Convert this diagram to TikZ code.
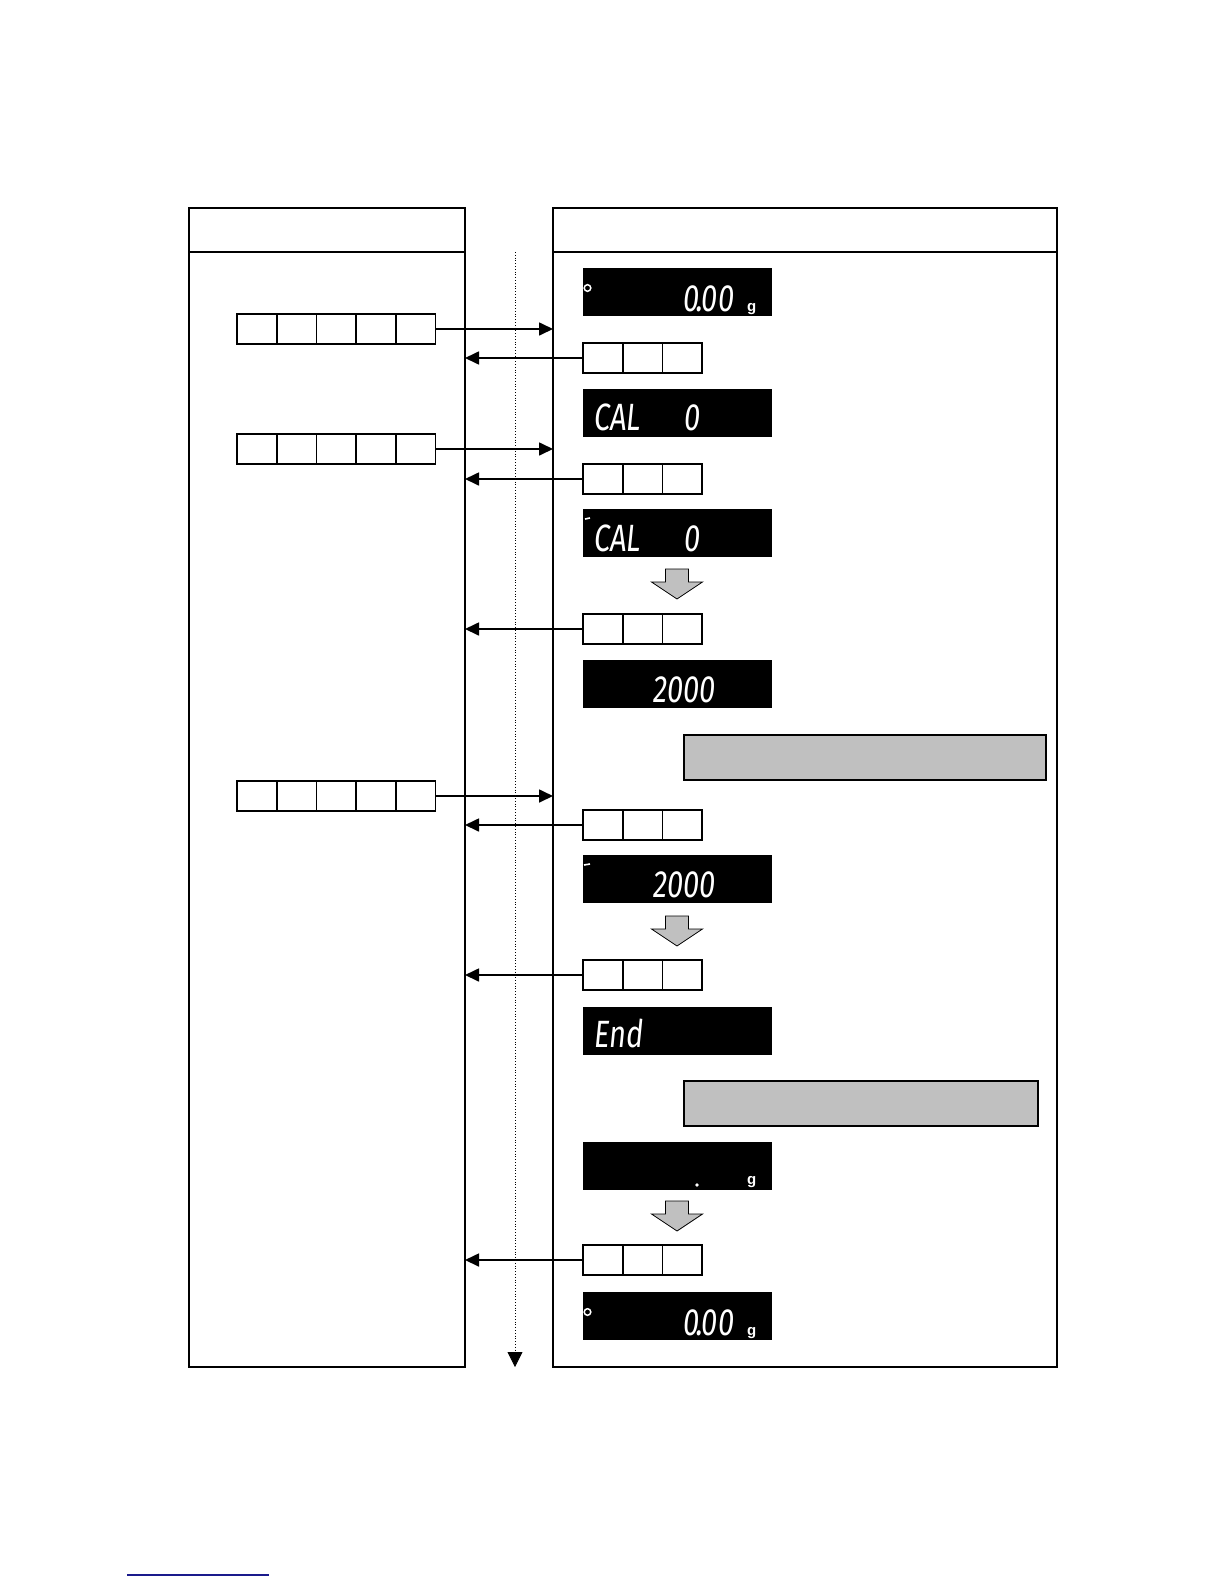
\documentclass[tikz,border=0pt]{standalone}
\usepackage{fontspec}
\usetikzlibrary{arrows.meta}
\newfontfamily\segfont{Fira Sans}[FakeSlant=0.1,FakeStretch=0.76]
\newfontfamily\unitfont{Liberation Sans}
\definecolor{shade}{HTML}{C0C0C0}
\definecolor{navyline}{HTML}{1A1A8C}
\tikzset{
 frame/.style={draw, line width=1.4pt, inner sep=0, outer sep=0, anchor=north west},
 disp/.style={fill=black, inner sep=0, outer sep=0, minimum width=189pt, minimum height=48pt, anchor=north west},
 cellbox/.style={draw, line width=1.8pt, fill=white, inner sep=0, outer sep=0, minimum width=39.7pt, minimum height=30pt, anchor=north west},
 seg/.style={text=white, font=\segfont\fontsize{38}{38}\selectfont, inner sep=0},
 unit/.style={text=white, font=\unitfont\bfseries\fontsize{15}{15}\selectfont, inner sep=0},
 flow/.style={line width=1.7pt, -{Triangle[length=14pt,width=13pt]}},
 note/.style={draw, line width=1.2pt, fill=shade, inner sep=0, outer sep=0, anchor=north west, minimum height=45pt},
 blockarrow/.style={draw, line width=0.8pt, fill=shade},
 tickmark/.style={white, line width=1.6pt},
}
\newcommand\fivecells[3]{\foreach \i in {1,...,5}{\node[cellbox] (#1-\i) at ({#2+(\i-1)*39.7},{-#3}) {};}}
\newcommand\threecells[3]{\foreach \i in {1,...,3}{\node[cellbox] (#1-\i) at ({#2+(\i-1)*39.7},{-#3}) {};}}
\newcommand\grayarrowat[1]{\draw[blockarrow] (665.5,{-#1}) -- (688.5,{-#1}) -- (688.5,{-#1-13}) -- (702.5,{-#1-13}) -- (677,{-#1-30}) -- (651.5,{-#1-13}) -- (665.5,{-#1-13}) -- cycle;}
\begin{document}
\begin{tikzpicture}[x=1pt,y=1pt]
\useasboundingbox (0,0) rectangle (1224,-1584);
% frames
\node[frame, minimum width=276pt, minimum height=1159pt] (L) at (189,-208) {};
\node[frame, minimum width=504pt, minimum height=1159pt] (R) at (553,-208) {};
\coordinate (hy) at (0,-252);
\draw[line width=1.4pt] (L.west |- hy) -- (L.east |- hy);
\draw[line width=1.4pt] (R.west |- hy) -- (R.east |- hy);
% time line
\coordinate (vtop) at (515,-252);
\coordinate (vbot) at (515,-1367);
\draw[dotted, line width=0.8pt, -{Triangle[length=15pt,width=15pt]}] (vtop) -- (vbot);
% displays
\node[disp] (d1) at (583,-268) {};
\node[disp] (d2) at (583,-389) {};
\node[disp] (d3) at (583,-509) {};
\node[disp] (d4) at (583,-660) {};
\node[disp] (d5) at (583,-855) {};
\node[disp] (d6) at (583,-1007) {};
\node[disp] (d7) at (583,-1142) {};
\node[disp] (d8) at (583,-1292) {};
% display texts
\draw[white, line width=1.5pt] (587.5,-288) circle (3.3);
\node[seg, anchor=base east] (t1) at (734,-311) {0\kern-3pt.\kern-2pt0\kern1pt0};
\node[unit, anchor=base west] (g1) at (747,-311) {g};
\node[seg, anchor=base west] (t2a) at (593,-430) {CAL};
\node[seg, anchor=base west] (t2b) at (683,-430) {0};
\draw[tickmark] (585,-519) -- (590,-518);
\node[seg, anchor=base west] (t3a) at (593,-551) {CAL};
\node[seg, anchor=base west] (t3b) at (683,-551) {0};
\node[seg, anchor=base east] (t4) at (715,-702) {2000};
\draw[tickmark] (584,-865) -- (590,-864);
\node[seg, anchor=base east] (t5) at (715,-897) {2000};
\node[seg, anchor=base west] (t6) at (593,-1047) {End};
\fill[white] (697,-1185) circle (1.8);
\node[unit, anchor=base west] (g7) at (747,-1184) {g};
\draw[white, line width=1.5pt] (587.5,-1312) circle (3.3);
\node[seg, anchor=base east] (t8) at (734,-1335) {0\kern-3pt.\kern-2pt0\kern1pt0};
\node[unit, anchor=base west] (g8) at (747,-1335) {g};
% key boxes
\fivecells{k1}{237}{314}
\fivecells{k2}{237}{434}
\fivecells{k3}{237}{781}
\threecells{c1}{583}{343}
\threecells{c2}{583}{464}
\threecells{c3}{583}{614}
\threecells{c4}{583}{810}
\threecells{c5}{583}{960}
\threecells{c6}{583}{1245}
% connectors
\draw[flow] (k1-5.east) -- (k1-5.east -| R.west);
\draw[flow] (k2-5.east) -- (k2-5.east -| R.west);
\draw[flow] (k3-5.east) -- (k3-5.east -| R.west);
\foreach \c in {c1,c2,c3,c4,c5,c6}{\draw[flow] (\c-1.west) -- (\c-1.west -| L.east);}
% gray arrows
\grayarrowat{569}
\grayarrowat{916}
\grayarrowat{1201}
% notes
\node[note, minimum width=362pt] (n1) at (684,-735) {};
\node[note, minimum width=354pt] (n2) at (684,-1081) {};
% link underline
\draw[navyline, line width=1.5pt] (127,-1575) -- (269,-1575);
\end{tikzpicture}
\end{document}
